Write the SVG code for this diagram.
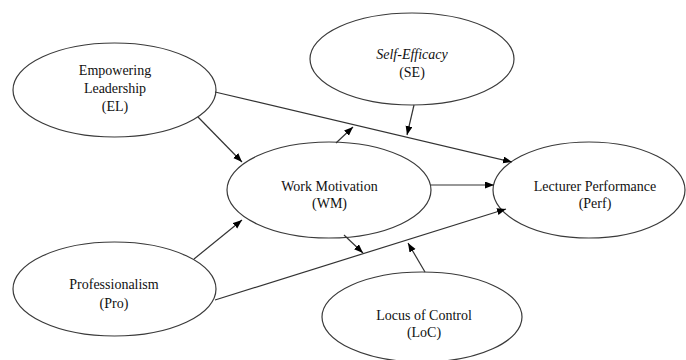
<svg xmlns="http://www.w3.org/2000/svg" width="686" height="360" viewBox="0 0 686 360">
<style>
.node ellipse{fill:#fff;stroke:#3a3a3a;stroke-width:1.2}
.node text{font-family:'Liberation Serif','DejaVu Serif',serif;font-size:14px;fill:#111;text-anchor:middle}
.conn line{stroke:#333;stroke-width:1.2;fill:none}
.arr{marker-end:url(#ah)}
</style>
<defs>
<marker id="ah" markerUnits="userSpaceOnUse" markerWidth="10" markerHeight="8" refX="9" refY="3.5" orient="auto">
<path d="M0,0 L9,3.5 L0,7 z" fill="#000"/>
</marker>
</defs>
<rect width="686" height="360" fill="#fff"/>
<g id="nodes">
<g id="EL" class="node"><ellipse cx="114.5" cy="90" rx="101.5" ry="47"/><text x="115" y="75">Empowering</text><text x="115" y="93">Leadership</text><text x="115" y="111">(EL)</text></g>
<g id="SE" class="node"><ellipse cx="412" cy="59" rx="102" ry="46"/><text x="412" y="59" font-style="italic">Self-Efficacy</text><text x="412" y="77">(SE)</text></g>
<g id="WM" class="node"><ellipse cx="329" cy="190" rx="102" ry="48"/><text x="329.5" y="191">Work Motivation</text><text x="329.5" y="208">(WM)</text></g>
<g id="Perf" class="node"><ellipse cx="589" cy="190" rx="96" ry="48"/><text x="595" y="191">Lecturer Performance</text><text x="595" y="208">(Perf)</text></g>
<g id="Pro" class="node"><ellipse cx="114.5" cy="289" rx="101.5" ry="47"/><text x="114" y="289">Professionalism</text><text x="114" y="308">(Pro)</text></g>
<g id="LoC" class="node"><ellipse cx="422" cy="317" rx="100" ry="45"/><text x="424" y="320">Locus of Control</text><text x="424" y="337">(LoC)</text></g>
</g>
<g id="connectors" class="conn">
<line class="arr" x1="215" y1="92" x2="512" y2="162"/>
<line class="arr" x1="198" y1="117" x2="242" y2="162"/>
<line class="arr" x1="431" y1="185" x2="494" y2="185"/>
<line class="arr" x1="194" y1="259" x2="242" y2="220"/>
<line class="arr" x1="215" y1="300" x2="506" y2="209"/>
<line class="arr" x1="336" y1="143" x2="353" y2="127"/>
<line class="arr" x1="414" y1="105" x2="407" y2="135"/>
<line class="arr" x1="344" y1="235" x2="363" y2="253"/>
<line class="arr" x1="425" y1="272" x2="408" y2="243"/>
</g>
</svg>
